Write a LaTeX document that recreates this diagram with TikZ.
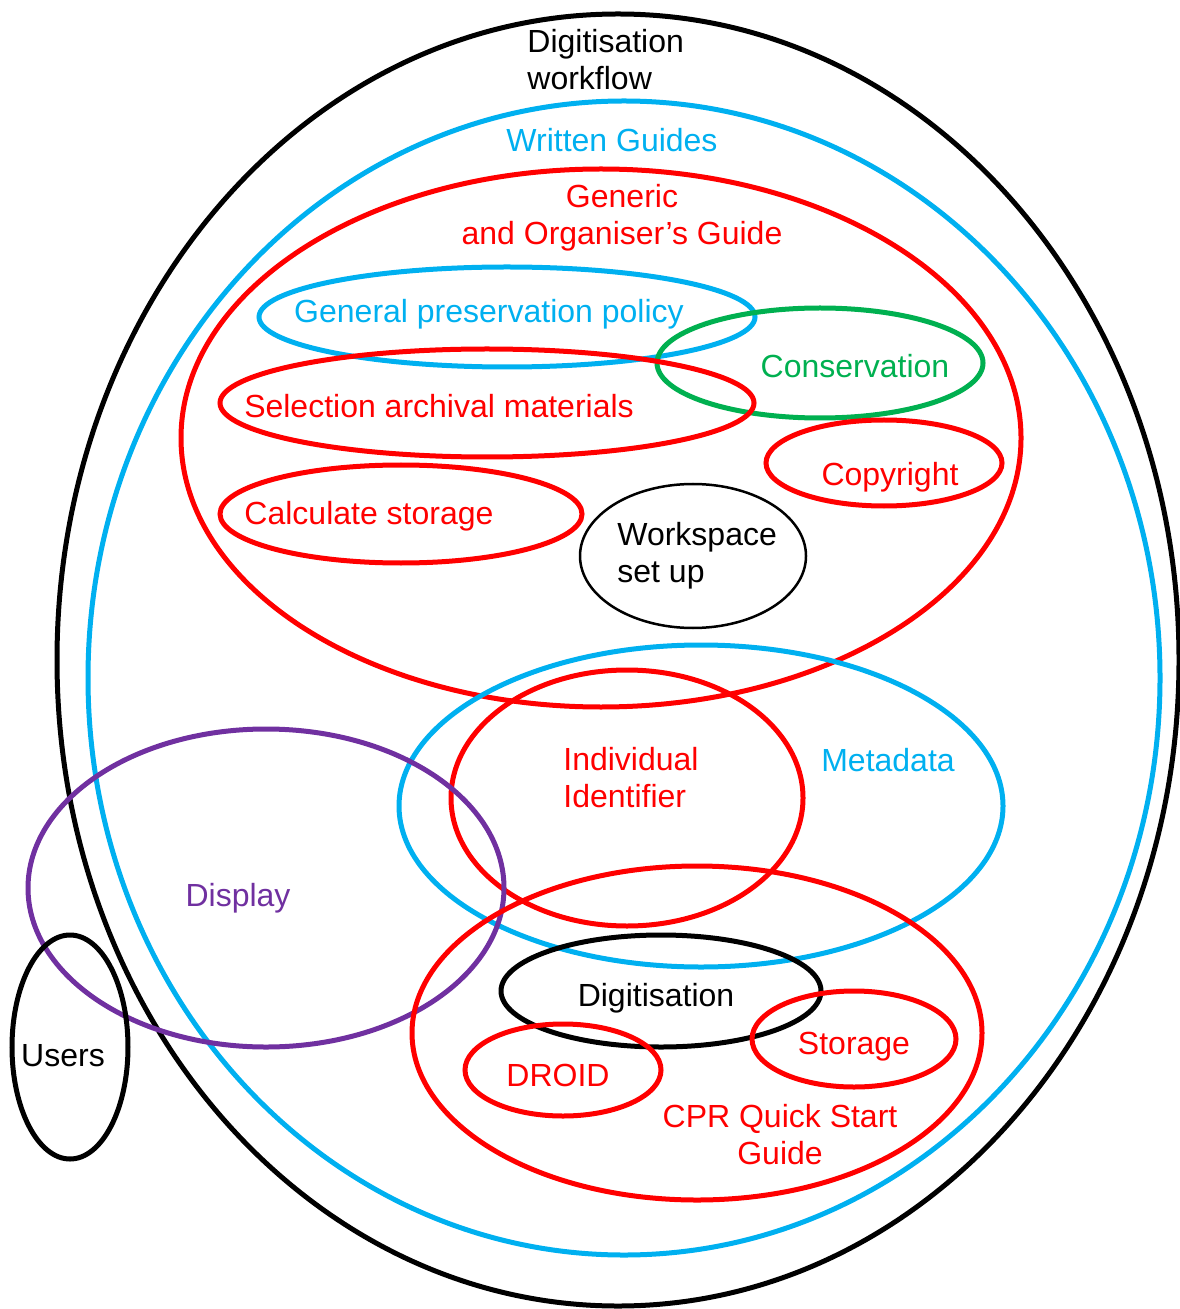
\documentclass[tikz,border=0pt]{standalone}
\usepackage{fontspec}
\setmainfont{Liberation Sans}
\usetikzlibrary{shapes.geometric}
\definecolor{cblue}{RGB}{0,176,240}
\definecolor{cred}{RGB}{255,0,0}
\definecolor{cgreen}{RGB}{0,176,80}
\definecolor{cpurple}{RGB}{112,48,160}
\tikzset{
  ring/.style={shape=ellipse, draw=#1, line width=2.5pt, inner sep=0pt, fill=none},
  thinring/.style={shape=ellipse, draw=#1, line width=1.25pt, inner sep=0pt},
  lbl/.style={text=#1, inner sep=0pt, anchor=base,
    font=\fontsize{16}{18.5}\selectfont},
  lbll/.style={lbl=#1, anchor=base west, align=left},
  lblc/.style={lbl=#1, align=center},
}
\begin{document}
\begin{tikzpicture}[x=0.5pt, y=-0.5pt]
\useasboundingbox (0,0) rectangle (1179,1309);
% sets (minimum width/height in pt = radius in px)
\node[ring=black, minimum width=561pt, minimum height=646pt] (workflow) at (618,660) {};
\node[ring=cblue, minimum width=536pt, minimum height=577pt] (guides) at (624,678) {};
\node[ring=cred, minimum width=420pt, minimum height=269pt] (generic) at (601,438) {};
\node[ring=cblue, minimum width=248pt, minimum height=50pt] (policy) at (507,317) {};
\node[ring=cgreen, minimum width=163pt, minimum height=55pt] (conserv) at (820,363) {};
\node[ring=cred, minimum width=267pt, minimum height=54pt] (select) at (487,403) {};
\node[ring=cred, minimum width=118pt, minimum height=43pt] (copyright) at (884,463) {};
\node[ring=cred, minimum width=181pt, minimum height=49pt] (calc) at (401,514) {};
\node[thinring=black, minimum width=113pt, minimum height=72pt] (workspace) at (693,556) {};
\node[ring=cblue, minimum width=302pt, minimum height=161pt] (metadata) at (701,806) {};
\node[ring=cred, minimum width=176pt, minimum height=128pt] (ident) at (627,798) {};
\node[ring=cpurple, minimum width=238pt, minimum height=159pt] (display) at (266,888) {};
\node[ring=cred, minimum width=285pt, minimum height=167pt] (cpr) at (697,1033) {};
\node[ring=black, minimum width=160pt, minimum height=56pt] (digit) at (661,991) {};
\node[ring=cred, minimum width=102pt, minimum height=48pt] (storage) at (854,1039) {};
\node[ring=cred, minimum width=98pt, minimum height=46pt] (droid) at (563,1070) {};
\node[ring=black, minimum width=58pt, minimum height=112pt] (users) at (70,1047) {};
% labels (two-line labels are anchored at the baseline of their last line)
\node[lbll=black] (tworkflow) at (527,90) {Digitisation\\workflow};
\node[lbl=cblue] (tguides) at (612,152) {Written Guides};
\node[lblc=cred] (tgeneric) at (622,245) {Generic\\and Organiser’s Guide};
\node[lbl=cblue] (tpolicy) at (489,323) {General preservation policy};
\node[lbl=cgreen] (tconserv) at (855,378) {Conservation};
\node[lbl=cred] (tselect) at (439,418) {Selection archival materials};
\node[lbl=cred] (tcopyright) at (890,486) {Copyright};
\node[lbl=cred] (tcalc) at (369,524) {Calculate storage};
\node[lbll=black] (tworkspace) at (617,582) {Workspace\\set up};
\node[lbll=cred] (tident) at (563,807) {Individual\\Identifier};
\node[lbl=cblue] (tmetadata) at (888,771) {Metadata};
\node[lbl=cpurple] (tdisplay) at (238,906) {Display};
\node[lbl=black] (tdigit) at (656,1006) {Digitisation};
\node[lbl=cred] (tstorage) at (854,1054) {Storage};
\node[lbl=cred] (tdroid) at (558,1086) {DROID};
\node[lblc=cred] (tcpr) at (780,1164) {CPR Quick Start\\Guide};
\node[lbl=black] (tusers) at (63,1066) {Users};
\end{tikzpicture}
\end{document}
